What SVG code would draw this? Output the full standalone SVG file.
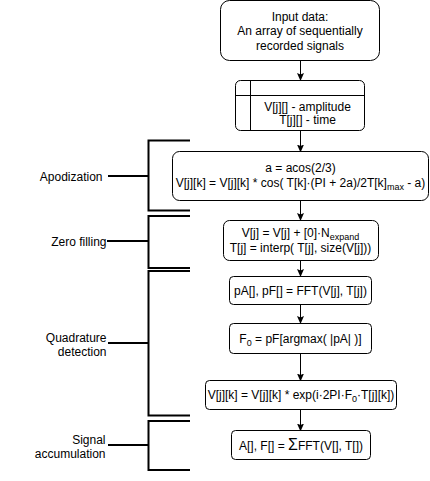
<svg xmlns="http://www.w3.org/2000/svg" width="430" height="481" viewBox="0 0 430 481">
<style>
text{font-family:"Liberation Sans",Arial,sans-serif;font-size:12px;fill:#000}
.c{text-anchor:middle}
.r{text-anchor:end}
.box{fill:#fff;stroke:#000;stroke-width:1}
.br{fill:none;stroke:#000;stroke-width:2}
.ed{fill:none;stroke:#000;stroke-width:1}
.sub{font-size:9px}
</style>
<defs>
<marker id="ah" viewBox="0 0 8 8" refX="7" refY="4" markerWidth="8" markerHeight="8" markerUnits="userSpaceOnUse" orient="auto">
<path d="M0,0.5 L8,4 L0,7.5 L1.5,4 z" fill="#000"/>
</marker>
</defs>
<rect width="430" height="481" fill="#fff"/>
<g id="brackets">
<g id="apodization">
<path class="br" d="M190,140.5 H148.5 V210.5 H190"/>
<path class="br" d="M108,176 H148.5"/>
<text class="r" x="102.5" y="180.5">Apodization</text>
</g>
<g id="zerofilling">
<path class="br" d="M190,216 H148.5 V268 H190"/>
<path class="br" d="M107,241 H148.5"/>
<text class="r" x="106.5" y="245.5">Zero filling</text>
</g>
<g id="quadrature">
<path class="br" d="M190,271 H148.5 V415.5 H190"/>
<path class="br" d="M108,343 H148.5"/>
<text class="r" x="106.5" y="341.5">Quadrature</text>
<text class="r" x="106.5" y="355.5">detection</text>
</g>
<g id="accumulation">
<path class="br" d="M190,421 H148.5 V470 H190"/>
<path class="br" d="M108,445 H148.5"/>
<text class="r" x="105.5" y="443.5">Signal</text>
<text class="r" x="105.5" y="457.5">accumulation</text>
</g>
</g>
<g id="connectors">
<path class="ed" d="M300.5,60.5 V80" marker-end="url(#ah)"/>
<path class="ed" d="M300.5,130.5 V151.5" marker-end="url(#ah)"/>
<path class="ed" d="M300.5,200.5 V220" marker-end="url(#ah)"/>
<path class="ed" d="M300.5,260.5 V276" marker-end="url(#ah)"/>
<path class="ed" d="M300.5,304.5 V323" marker-end="url(#ah)"/>
<path class="ed" d="M300.5,353.5 V380.5" marker-end="url(#ah)"/>
<path class="ed" d="M300.5,409.5 V430.5" marker-end="url(#ah)"/>
</g>
<g id="input">
<rect class="box" x="220.5" y="0.5" width="159" height="60" rx="9"/>
<text class="c" x="300" y="20.5">Input data:</text>
<text class="c" x="300" y="35">An array of sequentially</text>
<text class="c" x="300" y="49.5">recorded signals</text>
</g>
<g id="signals">
<rect class="box" x="235.5" y="80.5" width="129" height="50" rx="5"/>
<path class="ed" d="M235.5,95.5 H364.5 M250.5,80.5 V130.5"/>
<text class="c" x="307.5" y="111">V[j][] - amplitude</text>
<text class="c" x="307.5" y="124">T[j][] - time</text>
</g>
<g id="apod">
<rect class="box" x="172.5" y="151.5" width="256" height="49" rx="7"/>
<text class="c" x="300.5" y="172">a = acos(2/3)</text>
<text class="c" x="300.5" y="187">V[j][k] = V[j][k] * cos( T[k]·(PI + 2a)/2T[k]<tspan class="sub" dy="3">max</tspan><tspan dy="-3"> - a)</tspan></text>
</g>
<g id="zf">
<rect class="box" x="223.5" y="220.5" width="155" height="40" rx="6"/>
<text class="c" x="300.5" y="236.5">V[j] = V[j] + [0]·N<tspan class="sub" dy="3">expand</tspan></text>
<text class="c" x="300.5" y="252">T[j] = interp( T[j], size(V[j]))</text>
</g>
<g id="fft1">
<rect class="box" x="229.5" y="276.5" width="142" height="28" rx="4"/>
<text class="c" x="300.5" y="295">pA[], pF[] = FFT(V[j], T[j])</text>
</g>
<g id="f0">
<rect class="box" x="229.5" y="323.5" width="142" height="30" rx="4"/>
<text class="c" x="300.5" y="342.5">F<tspan class="sub" dy="3">0</tspan><tspan dy="-3"> = pF[argmax( |pA| )]</tspan></text>
</g>
<g id="shift">
<rect class="box" x="205.5" y="380.5" width="191" height="29" rx="4"/>
<text class="c" x="301" y="399">V[j][k] = V[j][k] * exp(i·2PI·F<tspan class="sub" dy="3">0</tspan><tspan dy="-3">·T[j][k])</tspan></text>
</g>
<g id="accum">
<rect class="box" x="231.5" y="430.5" width="139" height="29" rx="4"/>
<text class="c" x="301" y="449.5">A[], F[] = <tspan style="font-size:16px">Σ</tspan>FFT(V[], T[])</text>
</g>
</svg>
